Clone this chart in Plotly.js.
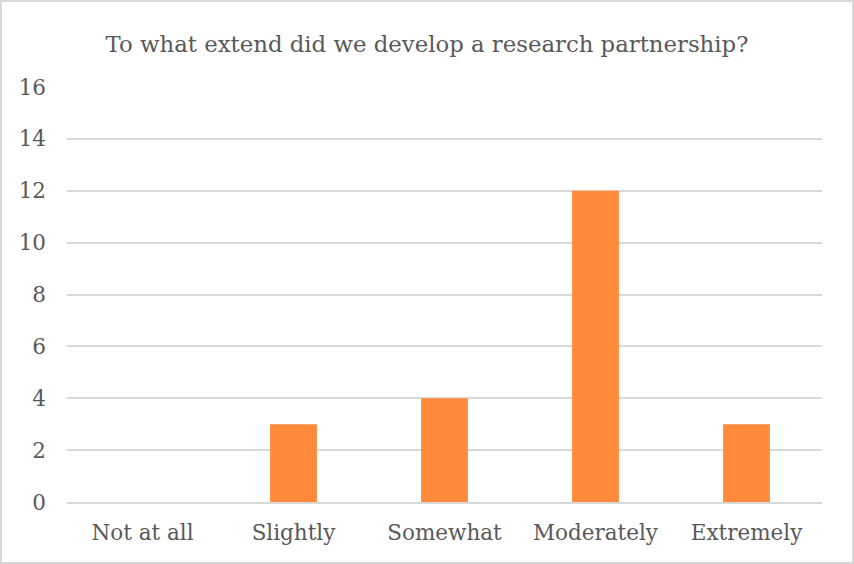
<!DOCTYPE html>
<html><head><meta charset="utf-8">
<script src="https://cdn.plot.ly/plotly-3.0.1.min.js"></script>
<style>
html,body{margin:0;padding:0;background:#fff;}
#wrap{width:854px;height:564px;box-sizing:border-box;border:2px solid #d9d9d9;}
#chart{width:850px;height:560px;}
</style></head>
<body><div id="wrap"><div id="chart"></div></div>
<script>
const categories = ["Not at all", "Slightly", "Somewhat", "Moderately", "Extremely"];
const counts = [0, 3, 4, 12, 3];
const yTicks = [0, 2, 4, 6, 8, 10, 12, 14, 16];
const titleText = "To what extend did we develop a research partnership?";

const font = "DejaVu Serif, Liberation Serif, serif";
Plotly.newPlot("chart", [{
  type: "bar",
  x: categories,
  y: counts,
  marker: {color: "#FF8A3A"},
  hoverinfo: "x+y"
}], {
  width: 850, height: 560,
  margin: {l: 65, r: 30, t: 85, b: 60},
  paper_bgcolor: "#fff", plot_bgcolor: "#fff",
  bargap: 0.69,
  title: {text: titleText, font: {family: font, size: 22.8, color: "#595959"}, x: 0.5, xanchor: "center", y: 0.925, yanchor: "middle"},
  font: {family: font, color: "#595959", size: 21.5},
  xaxis: {showgrid: false, showline: true, linecolor: "#d9d9d9", linewidth: 2, ticks: "", ticklabelstandoff: 10, tickfont: {family: font, size: 21.5, color: "#595959"}, fixedrange: true},
  yaxis: {range: [0, 16], tickvals: yTicks, gridcolor: "#d9d9d9", gridwidth: 2, zeroline: false, showline: false, ticks: "", ticklabelstandoff: 20, tickfont: {family: font, size: 21.5, color: "#595959"}, fixedrange: true},
  showlegend: false
}, {displayModeBar: false, staticPlot: true});
</script></body></html>
